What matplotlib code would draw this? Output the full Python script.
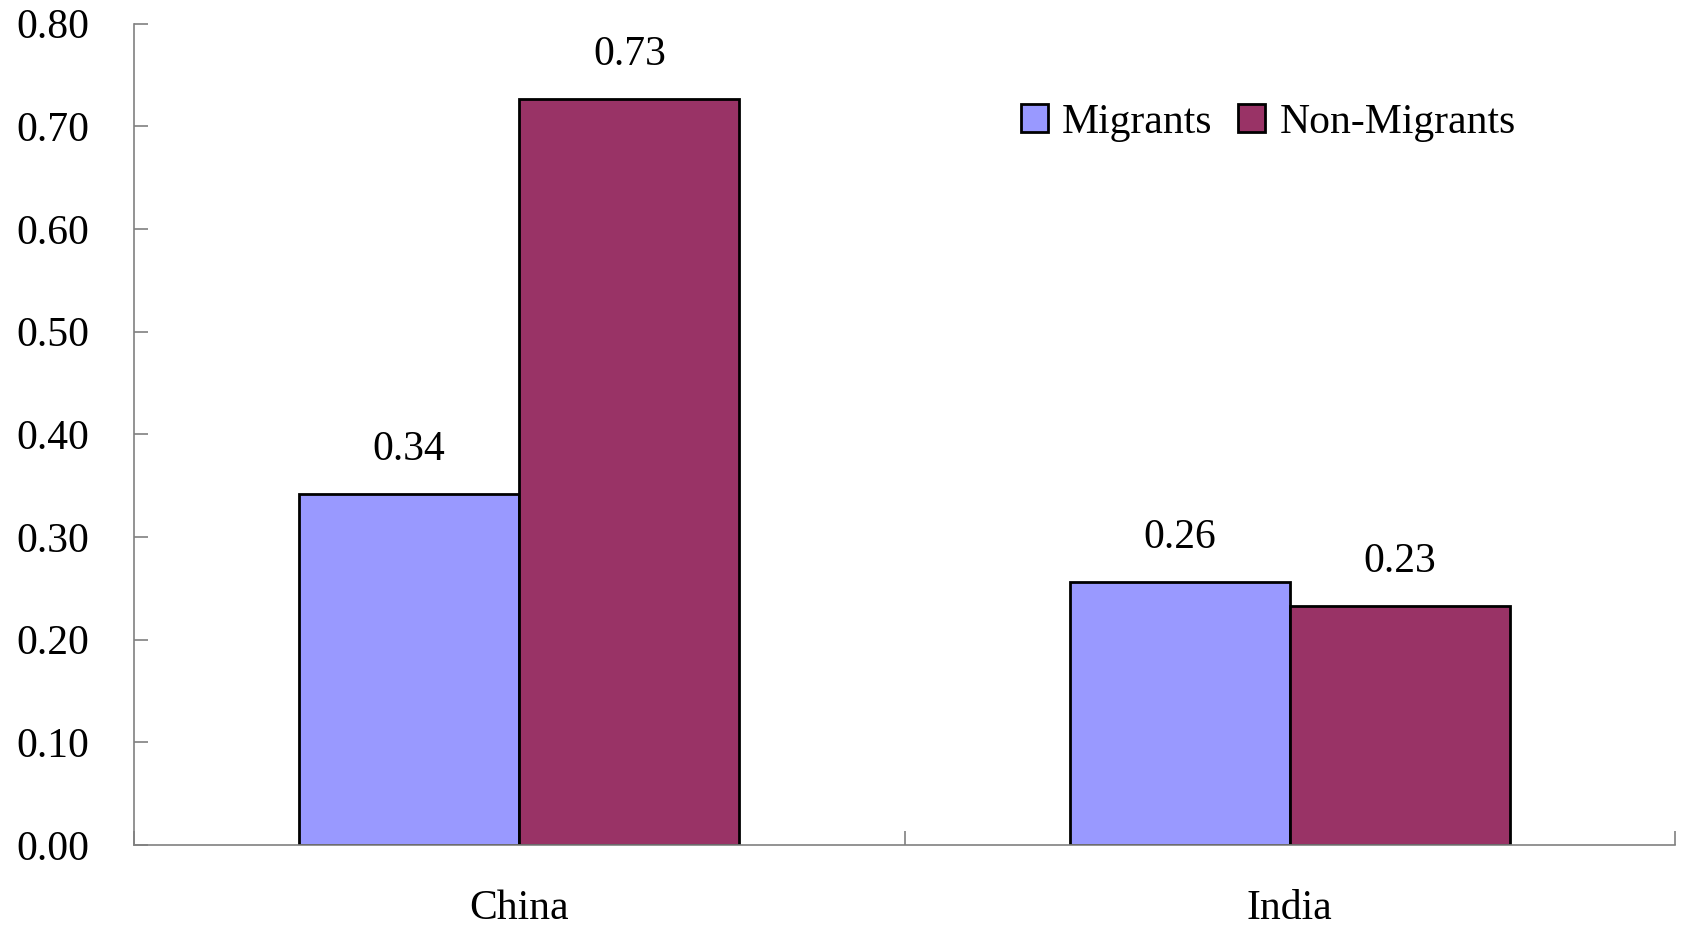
import matplotlib.pyplot as plt
import numpy as np

# data
countries = ["China", "India"]
migrants = [0.342, 0.256]
non_migrants = [0.727, 0.233]
migrant_labels = ["0.34", "0.26"]
non_migrant_labels = ["0.73", "0.23"]
yticks = [0.0, 0.1, 0.2, 0.3, 0.4, 0.5, 0.6, 0.7, 0.8]

plt.rcParams["font.family"] = ["Liberation Serif", "DejaVu Serif"]

fig = plt.figure(figsize=(16.84, 9.3), dpi=100)
ax = fig.add_axes([0.0796, 0.0914, 0.9151, 0.8832])

x = np.arange(len(countries))
w = 1 / 3.5  # Excel gap width 150%

b1 = ax.bar(x - w / 2, migrants, w, color="#9999FF", edgecolor="black",
            linewidth=2, label="Migrants")
b2 = ax.bar(x + w / 2, non_migrants, w, color="#993366", edgecolor="black",
            linewidth=2, label="Non-Migrants")

for bars, labels in [(b1, migrant_labels), (b2, non_migrant_labels)]:
    for rect, lab in zip(bars, labels):
        ax.annotate(lab, (rect.get_x() + rect.get_width() / 2, rect.get_height()),
                    xytext=(0, 18), textcoords="offset points",
                    ha="center", va="bottom", fontsize=30)

ax.set_xlim(-0.5, 1.5)
ax.set_ylim(0, 0.8)
ax.set_yticks(yticks)
ax.set_yticklabels([f"{v:.2f}" for v in yticks])
ax.set_xticks([-0.5, 0.5, 1.5])
ax.set_xticklabels([])
ax.set_xticks(x, minor=True)
ax.set_xticklabels(countries, minor=True)

for s in ["top", "right"]:
    ax.spines[s].set_visible(False)
for s in ["left", "bottom"]:
    ax.spines[s].set_color("#808080")
    ax.spines[s].set_linewidth(1.2)

ax.tick_params(axis="y", direction="in", length=10, width=1.2, color="#808080",
               labelsize=30, pad=32)
ax.tick_params(axis="x", which="major", direction="in", length=10, width=1.2,
               color="#808080")
ax.tick_params(axis="x", which="minor", length=0, labelsize=30, pad=32)

fig.legend(loc="center", bbox_to_anchor=(0.753, 0.868), ncol=2, frameon=False,
           fontsize=30, handlelength=0.65, handleheight=0.65, handletextpad=0.35,
           columnspacing=0.6)

fig.savefig("out.png", dpi=100)
